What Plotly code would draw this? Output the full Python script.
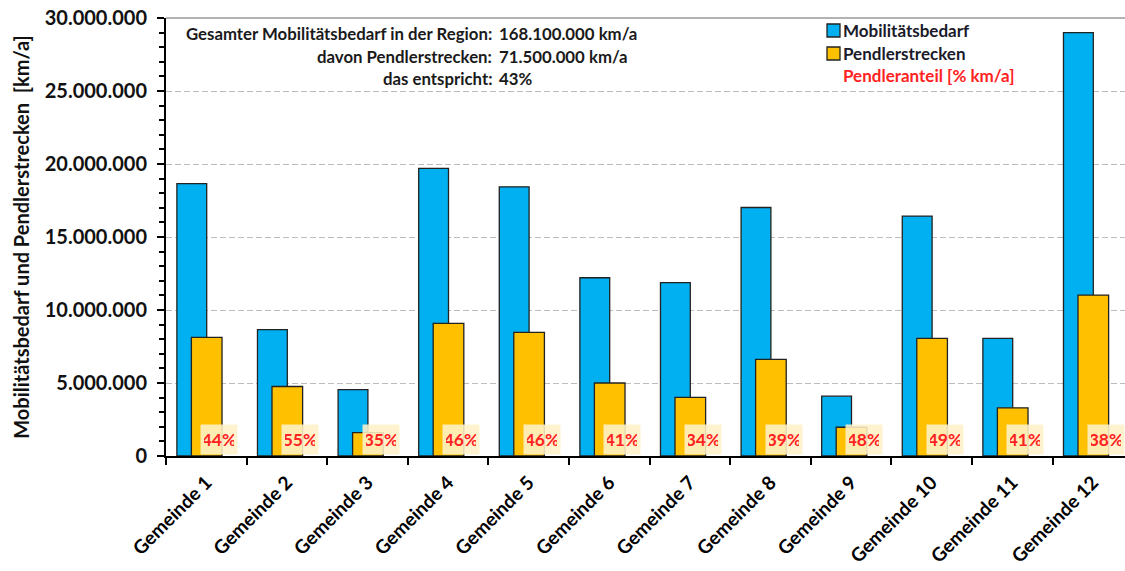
import plotly.graph_objects as go

# Municipalities and annual travel demand in km/a
gemeinden = [f"Gemeinde {i}" for i in range(1, 13)]
mobilitaetsbedarf = [18.65e6, 8.66e6, 4.54e6, 19.70e6, 18.44e6, 12.21e6,
                     11.87e6, 17.02e6, 4.10e6, 16.43e6, 8.06e6, 29.00e6]
pendlerstrecken = [8.13e6, 4.76e6, 1.60e6, 9.09e6, 8.47e6, 5.00e6,
                   4.01e6, 6.62e6, 1.97e6, 8.06e6, 3.30e6, 11.02e6]
pendleranteil = ["44%", "55%", "35%", "46%", "46%", "41%",
                 "34%", "39%", "48%", "49%", "41%", "38%"]

info_labels = ["Gesamter Mobilitätsbedarf in der Region:",
               "davon Pendlerstrecken:",
               "das entspricht:"]
info_values = ["168.100.000 km/a", "71.500.000 km/a", "43%"]

series_names = ["Mobilitätsbedarf", "Pendlerstrecken"]
share_title = "Pendleranteil [% km/a]"

FONT = "Lato"
BLUE = "#00B0F0"
YELLOW = "#FFC000"
RED = "#FF2222"
DARK = "#111111"
OUTLINE = "#222222"

W, H = 1125, 571
ML, MT, MB, MR = 166, 18, 115, 0
plot_w = W - ML - MR
plot_h = H - MT - MB
cat_px = 80.6
x_max = -0.5 + plot_w / cat_px


def px_x(px):
    return (px - ML) / plot_w


def px_y(py):
    return (H - MB - py) / plot_h


fig = go.Figure()
fig.add_trace(go.Bar(
    x=gemeinden, y=mobilitaetsbedarf, name=series_names[0],
    marker=dict(color=BLUE, line=dict(color=OUTLINE, width=1.3)),
    width=0.37, offset=-0.365, showlegend=False,
))
fig.add_trace(go.Bar(
    x=gemeinden, y=pendlerstrecken, name=series_names[1],
    marker=dict(color=YELLOW, line=dict(color=OUTLINE, width=1.3)),
    width=0.38, offset=-0.185, showlegend=False,
))

# share labels sitting on the baseline
for g, share in zip(gemeinden, pendleranteil):
    fig.add_annotation(
        x=g, y=0, xref="x", yref="y", text=f"<b>{share}</b>",
        showarrow=False, xanchor="center", yanchor="bottom",
        xshift=13, yshift=1, width=30, height=23, borderpad=3,
        bgcolor="rgba(255,241,200,0.88)",
        font=dict(family=FONT, size=17.5, color=RED),
    )

# summary block in the upper left
rows_y = [33, 56, 78]
for lab, val, py in zip(info_labels, info_values, rows_y):
    fig.add_annotation(
        x=px_x(494), y=px_y(py), xref="paper", yref="paper", text=f"<b>{lab}</b>",
        showarrow=False, xanchor="right", yanchor="middle",
        font=dict(family=FONT, size=16.8, color="#1a1a1a"),
    )
    fig.add_annotation(
        x=px_x(497), y=px_y(py), xref="paper", yref="paper", text=f"<b>{val}</b>",
        showarrow=False, xanchor="left", yanchor="middle",
        font=dict(family=FONT, size=16.8, color="#1a1a1a"),
    )

# key in the upper right
key_rows = [30.5, 53.5]
for name, color, py in zip(series_names, [BLUE, YELLOW], key_rows):
    fig.add_shape(
        type="rect", xref="paper", yref="paper",
        x0=px_x(827), x1=px_x(840), y0=px_y(py + 6.5), y1=px_y(py - 6.5),
        fillcolor=color, line=dict(color=OUTLINE, width=1.3),
    )
    fig.add_annotation(
        x=px_x(841), y=px_y(py), xref="paper", yref="paper", text=f"<b>{name}</b>",
        showarrow=False, xanchor="left", yanchor="middle",
        font=dict(family=FONT, size=17, color="#1a1a2a"),
    )
fig.add_annotation(
    x=px_x(841), y=px_y(75.5), xref="paper", yref="paper",
    text=f"<b>{share_title}</b>", showarrow=False,
    xanchor="left", yanchor="middle",
    font=dict(family=FONT, size=17, color=RED),
)

# top frame line
fig.add_shape(type="line", xref="paper", yref="paper", x0=0, x1=1, y0=1, y1=1,
              line=dict(color="#9a9a9a", width=1.5))

fig.update_layout(
    width=W, height=H,
    margin=dict(l=ML, r=MR, t=MT, b=MB, autoexpand=False),
    paper_bgcolor="white", plot_bgcolor="white",
    barmode="overlay", separators=",.",
    font=dict(family=FONT, color=DARK),
    showlegend=False,
    xaxis=dict(
        type="category", range=[-0.5, x_max],
        showline=True, linecolor="black", linewidth=2,
        ticks="outside", ticklen=7, tickwidth=2, tickcolor="black",
        tickson="boundaries", tickangle=-45, ticklabelstandoff=6,
        tickfont=dict(family=FONT, size=19, color="black", weight="bold"),
        showgrid=False, zeroline=False,
    ),
    xaxis2=dict(
        overlaying="x", anchor="y", type="linear", range=[-0.5, x_max],
        tickvals=[i - 0.5 for i in range(13)], showticklabels=False,
        ticks="inside", ticklen=7, tickwidth=2, tickcolor="black",
        showgrid=False, zeroline=False, showline=False,
    ),
    yaxis=dict(
        range=[0, 30e6], tickvals=[i * 5e6 for i in range(7)], tickformat=",d",
        showline=True, linecolor="black", linewidth=2,
        ticks="outside", ticklen=7, tickwidth=2, tickcolor="black",
        ticklabelstandoff=6,
        minor=dict(dtick=1e6, ticks="outside", ticklen=5, tickwidth=2,
                   tickcolor="black", showgrid=False),
        showgrid=True, gridcolor="#bdbdbd", griddash="6px,3px", gridwidth=1,
        zeroline=False,
        tickfont=dict(family=FONT, size=20, color=DARK, weight="bold"),
        title=dict(text="Mobilitätsbedarf und Pendlerstrecken  [km/a]",
                   font=dict(family=FONT, size=20, color=DARK, weight="bold"),
                   standoff=10),
    ),
    yaxis2=dict(
        overlaying="y", anchor="x", side="left", range=[0, 30e6],
        tickvals=[i * 5e6 for i in range(7)], showticklabels=False,
        ticks="inside", ticklen=7, tickwidth=2, tickcolor="black",
        showgrid=False, zeroline=False, showline=False,
    ),
)

fig.write_html("out.html")
